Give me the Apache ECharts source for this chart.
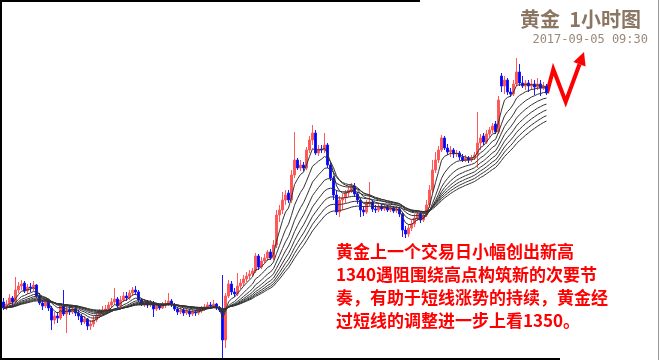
<!DOCTYPE html>
<html><head><meta charset="utf-8">
<script src="https://cdn.jsdelivr.net/npm/echarts@6/dist/echarts.min.js"></script>
<style>html,body{margin:0;padding:0;background:#fff}#c{width:660px;height:360px}</style>
</head><body><div id="c"></div>
<script>
// Gold 1-hour candles (USD)
const opens = [
1289.6,1288.4,1289.2,1290.4,1289.6,1292,1292.8,1293.4,1291.8,1292.6,
1292.4,1293,1290.8,1289.4,1288.8,1289.6,1288.4,1286,1286.8,1286.4,
1288.8,1287.2,1288,1287.6,1288.2,1287.4,1286.8,1285.6,1286.2,1284.8,
1285.2,1286,1286.8,1287.4,1287.8,1288.2,1289,1289.6,1290.2,1288.8,
1290,1290.8,1290.4,1291.4,1292,1291.6,1290,1289.2,1289.6,1289,
1289.4,1288.2,1288.8,1288.4,1289,1289.2,1289.8,1289,1288.2,1287.6,
1288,1287.4,1287.8,1287.2,1287.6,1287.4,1287.8,1288.2,1288.6,1289,
1288.8,1289.2,1288.4,1288,1282,1290.8,1293.2,1291.6,1291.2,1292.8,
1293.4,1294.2,1294.8,1295.2,1295.8,1298.8,1296.6,1297.8,1298.4,1299.6,
1298.4,1301,1307,1308,1310,1311.4,1310,1315,1318,1316.4,
1317,1316.4,1320,1322,1323.4,1319.4,1320.2,1320,1321,1317,
1314.4,1311,1307.6,1310,1310.4,1311.4,1312,1312.8,1311.2,1310,
1308,1307.6,1309.2,1309.6,1308.2,1308,1308.8,1308.2,1308.6,1308,
1308.4,1307.8,1308.2,1307.2,1304,1303.2,1304.4,1305.2,1306.4,1307.2,
1306,1307,1309,1312,1316,1318,1320,1322.4,1320.4,1319.6,
1320,1319.2,1319.4,1318.6,1318,1318.4,1318,1318.4,1319,1321.4,
1322.8,1321.6,1323.2,1324,1325.2,1323.6,1334.8,1332.8,1334,1331.6,
1331.2,1333.2,1335.6,1333.4,1332.8,1333.4,1332.8,1333.2,1332.6,1333.2,
1332.4,1332.8];
const closes = [
1288.4,1289.2,1290.4,1289.6,1292,1292.8,1293.2,1291.8,1292.6,1292.4,
1293,1290.8,1289.4,1288.8,1289.6,1288.4,1286,1286.8,1286.4,1288.8,
1287.2,1288,1287.6,1288.2,1287.4,1286.8,1285.6,1286.2,1284.8,1285.2,
1286,1286.8,1287.4,1287.8,1288.2,1289,1289.6,1290.2,1288.8,1290,
1290.8,1290.4,1291.4,1292,1291.6,1290,1289.2,1289.6,1289,1289.4,
1288.2,1288.8,1288.4,1289,1289.2,1289.8,1289,1288.2,1287.6,1288,
1287.4,1287.8,1287.2,1287.6,1287.4,1287.8,1288.2,1288.6,1289,1288.8,
1289.2,1288.4,1288,1282,1290.8,1293.2,1291.6,1291.2,1292.8,1293.4,
1294.2,1294.8,1295.2,1295.8,1298.8,1296.6,1297.8,1298.4,1299.6,1298.4,
1301,1307,1308,1310,1311,1310,1315,1318,1316.4,1317,
1316.4,1320,1322,1323.4,1319.4,1320.2,1320,1321,1317,1314.4,
1311,1307.6,1310,1310.4,1311.4,1312,1312.8,1311.2,1310,1308,
1307.6,1309.2,1309.6,1308.2,1308,1308.8,1308.2,1308.6,1308,1308.4,
1307.8,1308.2,1307.2,1304,1303.2,1304.4,1305.2,1306.4,1307.2,1306,
1307,1309,1312,1316,1318,1320,1322.4,1320.4,1319.6,1320,
1319.2,1319.4,1318.6,1318,1318.4,1318,1318.4,1319,1321.4,1322.4,
1321.6,1323.2,1324,1324.8,1323.6,1330,1332.8,1334,1331.6,1331.2,
1333.2,1335.6,1333.4,1332.8,1333.4,1332.8,1333.2,1332.6,1333.2,1332.4,
1332.8,1331.4];
const highs = [
1290.4,1290,1291.2,1290.8,1294.6,1293.6,1294,1293.8,1293.2,1293.4,
1293.8,1293.2,1291.4,1290,1290.2,1290,1288.8,1287.6,1287.6,1289.2,
1292,1288.8,1288.8,1289,1288.8,1288,1287.2,1286.8,1286.4,1286,
1286.8,1287.6,1288.2,1288.8,1289,1289.6,1290.4,1292.4,1290.6,1290.8,
1291.6,1291.6,1292,1292.6,1292.8,1292,1290.4,1290.2,1290,1290,
1289.8,1289.4,1289.2,1289.6,1290,1291.4,1290.2,1289.4,1288.6,1288.6,
1288.4,1288.4,1288.2,1288.2,1288,1288.4,1288.8,1289.2,1289.6,1289.6,
1290,1289.4,1288.8,1295,1291.4,1294,1293.8,1292.4,1295.4,1294.2,
1295,1295.6,1296,1296.4,1299.4,1299.2,1298.6,1299.2,1300,1300.2,
1302,1308,1309,1311.6,1312,1312,1316,1323.6,1318.4,1318,
1317.6,1320.6,1322.8,1325,1324,1321,1321,1323.4,1321.4,1317.4,
1314.8,1312,1310.8,1311.2,1312,1312.8,1313.4,1313.4,1311.6,1310.4,
1308.8,1310,1313.6,1310,1309,1309.4,1309.2,1309.2,1309,1309,
1308.8,1308.8,1308.6,1307.6,1304.8,1305.2,1306,1307.2,1308,1307.6,
1307.8,1310,1313,1318,1319.6,1320.8,1323,1322.8,1321.2,1320.8,
1320.4,1320,1319.8,1319.2,1319,1318.8,1319,1319.6,1327.6,1323.2,
1323.4,1324,1324.6,1325.4,1325.8,1330.8,1335.4,1334.8,1334.4,1332.4,
1334,1338.4,1337.2,1334.8,1334,1334,1334.2,1334,1334.4,1334,
1333.6,1333.2];
const lows = [
1288,1288,1288.8,1288.8,1289.2,1291.4,1292,1291.4,1291.2,1291.6,
1291.8,1290.4,1289,1288,1288.4,1287.8,1284,1285.2,1285.4,1286,
1286.8,1283.4,1287,1287.2,1286.8,1286,1285,1285.2,1284,1284,
1284.6,1285.6,1286.4,1286.8,1287.2,1287.8,1288.4,1289,1288.4,1288.2,
1289.6,1289.8,1290,1290.8,1291,1289.6,1288.8,1288.6,1288.4,1288.6,
1286.6,1287.8,1288,1288.2,1288.4,1288.8,1288.6,1287.8,1287,1287.2,
1286.8,1287,1286.6,1286.8,1286.8,1287,1287.4,1287.8,1288.2,1288.2,
1288.4,1288,1287.6,1278.4,1280.4,1290.4,1291,1290.6,1290.8,1292.2,
1292.8,1293.6,1294.2,1294.8,1295.4,1296,1296.2,1297.4,1297.8,1298,
1298,1300.4,1305.6,1307.2,1309,1309.4,1309.4,1314.4,1316,1315.8,
1315.8,1316,1319.4,1321,1319,1318.8,1319.4,1319.4,1316.4,1313.8,
1310,1307,1306.6,1308,1309.4,1310.6,1311.4,1310.6,1309.2,1306.6,
1306.8,1307.2,1308.8,1307.6,1307.4,1307.6,1307.8,1307.8,1307.6,1307.6,
1307.4,1307.4,1306.6,1302.6,1302.4,1302.6,1303.8,1304.6,1305.8,1305.4,
1305.6,1306.6,1308.4,1311.4,1315.4,1317.4,1319.6,1320,1319,1318.6,
1318.4,1318.6,1318,1317.6,1317.6,1317.4,1317.6,1318,1316.4,1320,
1321,1321.2,1322.6,1323.4,1323.2,1323.2,1331.6,1331.2,1331,1330.6,
1330.8,1332.8,1332.8,1332.4,1332,1331.6,1332,1331,1332,1330.8,
1332,1331];
const categories = closes.map((_, i) => String(i + 1));
const maPeriods = [5, 10, 15, 20, 25, 30, 35, 40];
const titleText = '黄金  1小时图';
const dateText = '2017-09-05 09:30';
const noteLines = [
  '黄金上一个交易日小幅创出新高',
  '1340遇阻围绕高点构筑新的次要节',
  '奏，有助于短线涨势的持续，黄金经',
  '过短线的调整进一步上看1350。'
];

function ema(src, n) {
  const a = 2 / (n + 1);
  const out = [];
  let v = src[0];
  for (let i = 0; i < src.length; i++) {
    v = i === 0 ? src[0] : a * src[i] + (1 - a) * v;
    out.push(+v.toFixed(3));
  }
  return out;
}

const candles = opens.map((o, i) => [o, closes[i], lows[i], highs[i]]);

const chart = echarts.init(document.getElementById('c'), null, {renderer: 'canvas'});

const series = [{
  type: 'candlestick',
  data: candles,
  barWidth: 1.6,
  itemStyle: {
    color: '#ff5555', color0: '#0000ff',
    borderColor: '#ff5a5a', borderColor0: '#1a1aff', borderWidth: 1
  },
  z: 2
}];
maPeriods.forEach(p => {
  series.push({
    type: 'line', data: ema(closes, p), showSymbol: false, symbol: 'none',
    silent: true, lineStyle: {color: '#333', width: 1}, z: 3
  });
});

// zigzag arrow geometry
const tip = [584, 52], valley = [565.7, 101.7];
const dx = tip[0] - valley[0], dy = tip[1] - valley[1];
const len = Math.hypot(dx, dy), ux = dx / len, uy = dy / len;
const headLen = 13, headHalf = 6.5;
const base = [tip[0] - ux * headLen, tip[1] - uy * headLen];
const px = -uy, py = ux;

const textFont = '"Noto Sans CJK SC", sans-serif';
const graphic = [
  {type: 'line', shape: {x1: 1, y1: 0, x2: 1, y2: 360}, style: {stroke: '#000', lineWidth: 2}},
  {type: 'line', shape: {x1: 0, y1: 1, x2: 420, y2: 1}, style: {stroke: '#000', lineWidth: 2}},
  {type: 'line', shape: {x1: 0, y1: 359, x2: 560, y2: 359}, style: {stroke: '#000', lineWidth: 2}},
  {type: 'line', shape: {x1: 658.5, y1: 0, x2: 658.5, y2: 360}, style: {stroke: '#999', lineWidth: 1}},
  {type: 'text', x: 641, y: 19, style: {text: titleText, font: 'bold 20px ' + textFont, fill: '#8b7664', textAlign: 'right', textVerticalAlign: 'middle', align: 'right', verticalAlign: 'middle'}},
  {type: 'text', x: 648, y: 40, style: {text: dateText, font: '12px "DejaVu Sans Mono", monospace', fill: '#9a8979', textAlign: 'right', textVerticalAlign: 'middle', align: 'right', verticalAlign: 'middle'}},
  {type: 'polyline', shape: {points: [[547, 93], [553.3, 69.3], valley, base]}, style: {stroke: '#ff0000', lineWidth: 4, lineJoin: 'miter', fill: null}},
  {type: 'polygon', shape: {points: [tip, [base[0] + px * headHalf, base[1] + py * headHalf], [base[0] - px * headHalf, base[1] - py * headHalf]]}, style: {fill: '#ff0000'}}
];
noteLines.forEach((t, i) => {
  graphic.push({type: 'text', x: 336, y: 252 + i * 22.7, style: {text: t, font: 'bold 17px ' + textFont, fill: '#ff0000', textAlign: 'left', textVerticalAlign: 'middle', align: 'left', verticalAlign: 'middle'}});
});

chart.setOption({
  animation: false,
  backgroundColor: '#fff',
  grid: {left: 2, right: 112, top: 0, bottom: 0},
  xAxis: {type: 'category', data: categories, show: false, boundaryGap: true},
  yAxis: {type: 'value', min: 1278, max: 1350, show: false},
  series: series,
  graphic: graphic
});
</script></body></html>
